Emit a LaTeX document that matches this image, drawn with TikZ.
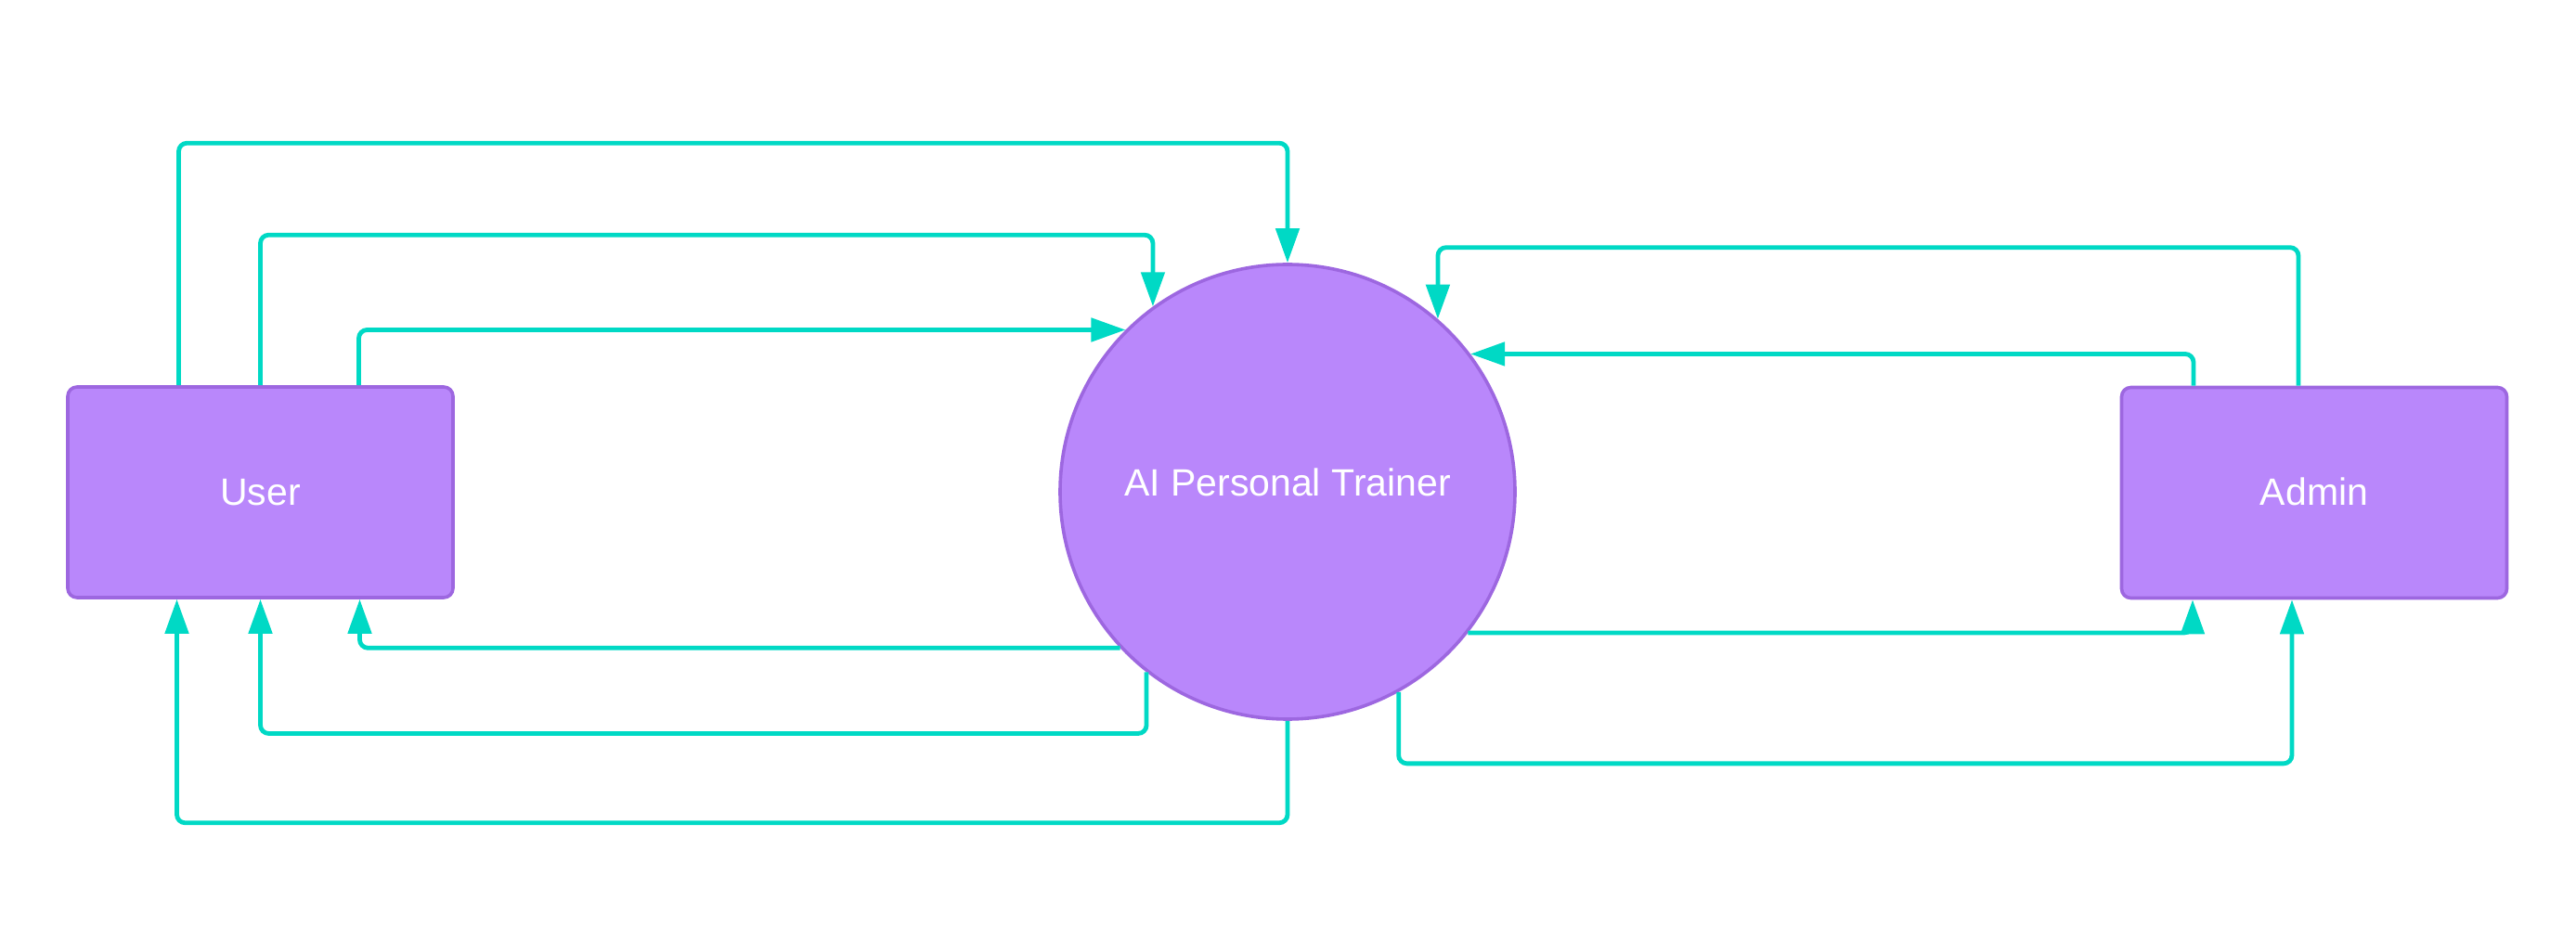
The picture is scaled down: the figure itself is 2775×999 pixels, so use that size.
\documentclass[tikz,border=0pt]{standalone}
\usepackage{fontspec}
\setmainfont{Liberation Sans}
\usetikzlibrary{arrows.meta}
\definecolor{flowc}{RGB}{0,217,197}
\definecolor{boxfill}{RGB}{185,135,251}
\definecolor{boxline}{RGB}{157,103,224}
\tikzset{
  x=0.5pt, y=-0.5pt,
  entity/.style={draw=boxline, fill=boxfill, line width=1.8pt, rounded corners=5pt,
    minimum width=207.5pt, minimum height=113.5pt, inner sep=0pt, text=white,
    font=\fontsize{20.5pt}{24pt}\selectfont, text height=15pt, text depth=1pt},
  process/.style={draw=boxline, fill=boxfill, line width=1.8pt, circle,
    minimum size=245pt, inner sep=0pt, text=white,
    font=\fontsize{20.5pt}{24pt}\selectfont, text height=15pt, text depth=10pt},
  flow/.style={draw=flowc, line width=2.4pt, rounded corners=4.5pt,
    -{Triangle[length=18.5pt,width=12.5pt]}}
}
\begin{document}
\begin{tikzpicture}
\useasboundingbox[fill=white] (0,0) rectangle (2775,999);
\node[entity] (user) at (280.5,530.5) {User};
\node[entity] (admin) at (2493,531) {Admin};
\node[process] (trainer) at (1387,530) {AI Personal Trainer};
% User -> Trainer
\draw[flow] ([shift={(-88,0)}]user.north) -- ++(0,-261) -| (trainer.north);
\draw[flow] (user.north) -- ++(0,-162) -| (trainer.126.2);
\draw[flow] ([shift={(106,0)}]user.north) |- (trainer.135);
% Admin -> Trainer
\draw[flow] ([shift={(-17,0)}]admin.north) -- ++(0,-149) -| (trainer.49.2);
\draw[flow] ([shift={(-130,0)}]admin.north) |- (trainer.37.5);
% Trainer -> User
\draw[flow] (trainer.223.7) -| ([shift={(107,0)}]user.south);
\draw[flow] (trainer.232.8) -- ++(0,66) -| (user.south);
\draw[flow] (trainer.south) -- ++(0,110) -| ([shift={(-90,0)}]user.south);
% Trainer -> Admin
\draw[flow] (trainer.-38) -| ([shift={(-131,0)}]admin.south);
\draw[flow] (trainer.-61.8) -- ++(0,77) -| ([shift={(-24,0)}]admin.south);
\end{tikzpicture}
\end{document}
